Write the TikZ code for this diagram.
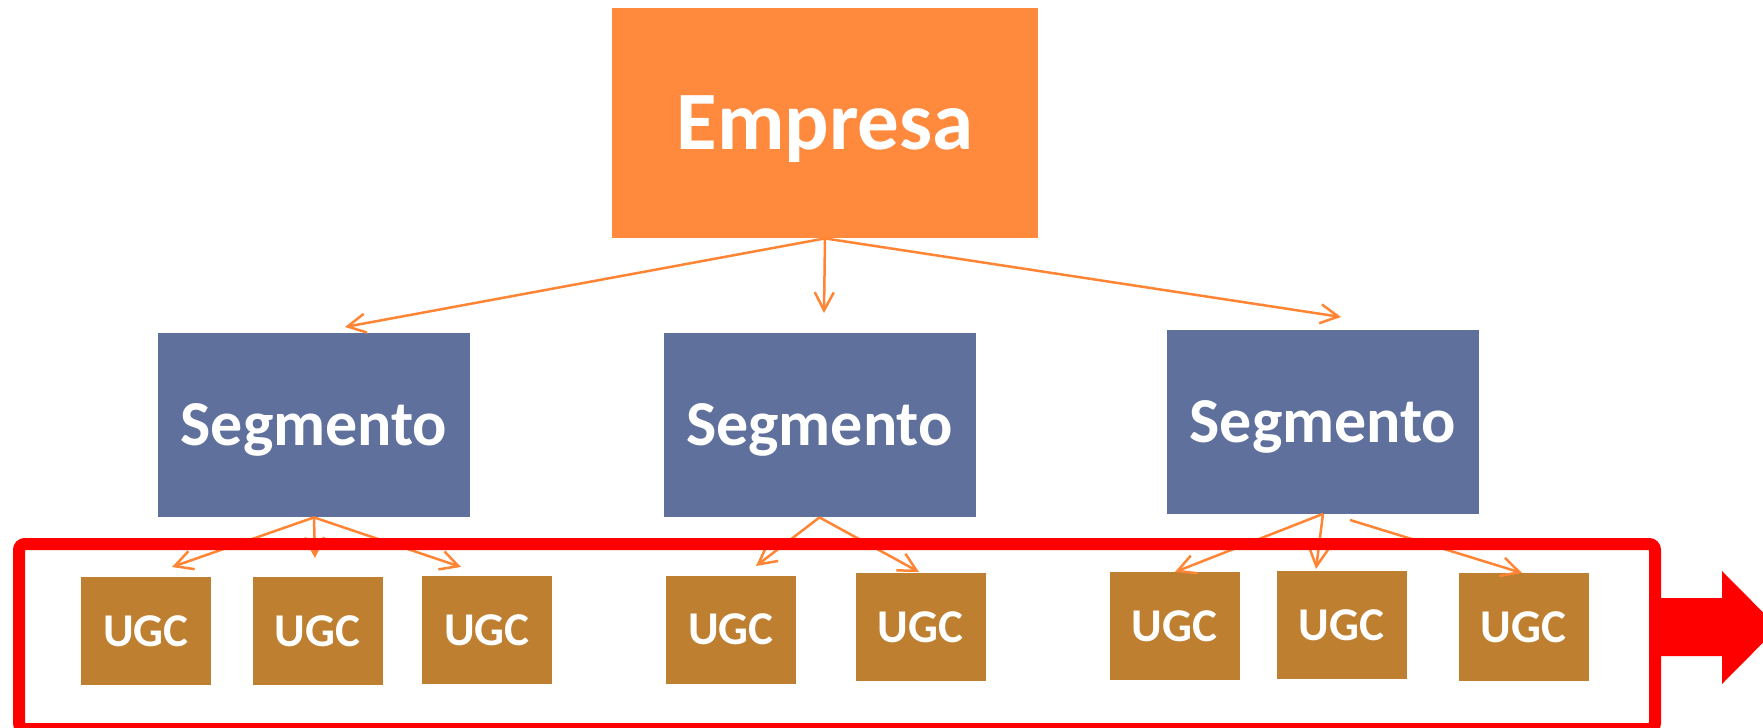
\documentclass[tikz,border=0pt]{standalone}
\usepackage{fontspec}
\setmainfont{Carlito}
\usetikzlibrary{arrows.meta}
\definecolor{empcol}{RGB}{255,137,60}
\definecolor{segcol}{RGB}{94,112,155}
\definecolor{ugccol}{RGB}{190,127,48}
\definecolor{arrcol}{RGB}{255,133,53}
\definecolor{frmcol}{RGB}{255,0,0}
\begin{document}
\begin{tikzpicture}[x=0.5pt,y=-0.5pt,
  empbox/.style={fill=empcol,inner sep=0pt,minimum width=213pt,minimum height=115pt,
    text=white,font=\fontsize{41.5pt}{41.5pt}\selectfont\bfseries,text height=26.7pt,text depth=0pt},
  segbox/.style={fill=segcol,inner sep=0pt,minimum width=156pt,minimum height=92pt,
    text=white,font=\fontsize{32pt}{32pt}\selectfont\bfseries,text height=20.6pt,text depth=0pt},
  ugcbox/.style={fill=ugccol,inner sep=0pt,minimum width=65pt,minimum height=54pt,
    text=white,font=\fontsize{23.5pt}{23.5pt}\selectfont\bfseries,text height=15.1pt,text depth=0pt},
  conn/.style={draw=arrcol,line width=1.25pt,-{Straight Barb[length=9pt,width=9.5pt,line width=1.25pt]}},
  frame/.style={draw=frmcol,line width=6pt,rounded corners=3pt},
  bigarrow/.style={fill=frmcol}
]
\useasboundingbox (0,0) rectangle (1763,728);
\clip (0,0) rectangle (1763,728);
% boxes
\node[empbox] (emp) at (825,123) {Empresa};
\node[segbox] (s1) at (314,425) {Segmento};
\node[segbox] (s2) at (819.5,425) {Segmento};
\node[segbox] (s3) at (1323,421.5) {Segmento};
\node[ugcbox] (u1) at (146,631) {UGC};
\node[ugcbox] (u2) at (317.5,631) {UGC};
\node[ugcbox] (u3) at (487,630) {UGC};
\node[ugcbox] (u4) at (731,629.5) {UGC};
\node[ugcbox] (u5) at (920.5,627) {UGC};
\node[ugcbox] (u6) at (1174.5,626) {UGC};
\node[ugcbox] (u7) at (1341.5,625) {UGC};
\node[ugcbox] (u8) at (1523.5,627) {UGC};
% arrow tips
\coordinate (ts1) at (345,327);
\coordinate (ts2) at (824,313);
\coordinate (ts3) at (1341,317);
\coordinate (tu1) at (172,567);
\coordinate (tu2) at (315,558);
\coordinate (tu3) at (461,567);
\coordinate (tu4) at (756,566);
\coordinate (tu5) at (919,572);
\coordinate (tu6) at (1175,572);
\coordinate (tu7) at (1316,569);
\coordinate (tu8) at (1522,573);
\coordinate (su8) at (1350,520);
% connectors
\draw[conn] (emp.south) -- (ts1);
\draw[conn] (emp.south) -- (ts2);
\draw[conn] (emp.south) -- (ts3);
\draw[conn] (s1.south) -- (tu1);
\draw[conn] (s1.south) -- (tu2);
\draw[conn] (s1.south) -- (tu3);
\draw[conn] (s2.south) -- (tu4);
\draw[conn] (s2.south) -- (tu5);
\draw[conn] (s3.south) -- (tu6);
\draw[conn] (s3.south) -- (tu7);
\draw[conn] (su8) -- (tu8);
% red frame and arrow
\coordinate (fa) at (19,544);
\coordinate (fb) at (1655,729);
\draw[frame] (fa) rectangle (fb);
\fill[bigarrow] (1655,598) -- (1722,598) -- (1722,571) -- (1778,627.5)
  -- (1722,684) -- (1722,656) -- (1655,656) -- cycle;
\end{tikzpicture}
\end{document}
